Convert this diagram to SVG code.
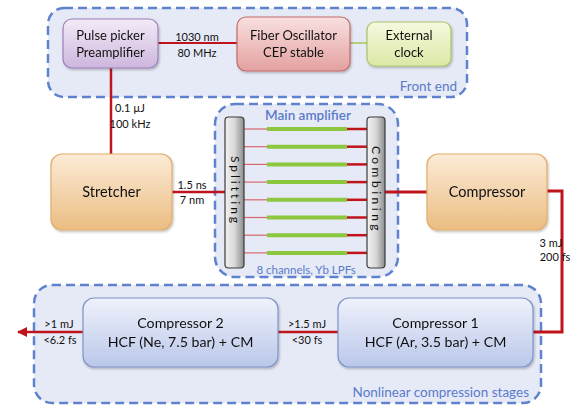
<svg xmlns="http://www.w3.org/2000/svg" width="579" height="412" viewBox="0 0 579 412">
<defs>
<linearGradient id="gPurple" x1="0" y1="0" x2="0" y2="1"><stop offset="0" stop-color="#f3ebf7"/><stop offset="1" stop-color="#cdb6dd"/></linearGradient>
<linearGradient id="gRed" x1="0" y1="0" x2="0" y2="1"><stop offset="0" stop-color="#f8e0df"/><stop offset="1" stop-color="#e3a1a0"/></linearGradient>
<linearGradient id="gGreen" x1="0" y1="0" x2="0" y2="1"><stop offset="0" stop-color="#f6f9df"/><stop offset="1" stop-color="#dbe8a6"/></linearGradient>
<linearGradient id="gOrange" x1="0" y1="0" x2="0" y2="1"><stop offset="0" stop-color="#fcebd7"/><stop offset="1" stop-color="#ebbd82"/></linearGradient>
<linearGradient id="gBlue" x1="0" y1="0" x2="0" y2="1"><stop offset="0" stop-color="#eff2fb"/><stop offset="1" stop-color="#bac7ea"/></linearGradient>
<linearGradient id="gBar" x1="0" y1="0" x2="1" y2="0"><stop offset="0" stop-color="#f2f2f2"/><stop offset="0.5" stop-color="#d8d8d8"/><stop offset="1" stop-color="#8c8c8c"/></linearGradient>
<filter id="sh" x="-10%" y="-10%" width="125%" height="130%"><feDropShadow dx="1" dy="1.5" stdDeviation="1.2" flood-color="#000" flood-opacity="0.25"/></filter>
<marker id="arr" viewBox="0 0 10 10" refX="9" refY="5" markerWidth="4" markerHeight="4" orient="auto-start-reverse"><path d="M0,0 L10,5 L0,10 z" fill="#c0141c"/></marker>
</defs>
<style>
.grp{fill:#e6eaf6;stroke:#5f82cf;stroke-width:2.5;stroke-dasharray:9 5}
.node{filter:url(#sh)}
.t{font-family:Lato,"Open Sans","Liberation Sans",sans-serif;fill:#111;text-anchor:middle}
.big{font-size:14.5px}
.hcf{font-size:14.2px}
.mid{font-size:13px}
.sm{font-size:11px}
.gl{font-family:Lato,"Open Sans","Liberation Sans",sans-serif;fill:#5a7acb;font-size:13.5px}
.red{stroke:#c0141c;fill:none}
.ch{stroke:#8dc63f;stroke-width:4}
.thin{stroke:#d46a70;stroke-width:1.2}
.rr{stroke:#c0141c;stroke-width:2.5}
.bar{fill:url(#gBar);stroke:#3a3a3a;stroke-width:1.2}
</style>

<g id="group-frontend">
<rect class="grp" x="48" y="8" width="419" height="89" rx="16"/>
<text class="gl" x="457" y="90.5" text-anchor="end">Front end</text>
</g>
<g id="group-mainamp">
<rect class="grp" x="215" y="104" width="183" height="173" rx="20"/>
<text class="gl" x="308" y="120" text-anchor="middle" font-weight="600">Main amplifier</text>
<text class="gl" x="306" y="274" text-anchor="middle" style="font-size:11.5px">8 channels, Yb LPFs</text>
</g>
<g id="group-nonlinear">
<rect class="grp" x="34" y="285" width="507" height="118" rx="18"/>
<text class="gl" x="529" y="397" text-anchor="end">Nonlinear compression stages</text>
</g>

<g id="connectors">
<line class="red" stroke-width="2" x1="158" y1="43" x2="237" y2="43"/>
<line stroke="#b5d07a" stroke-width="2" x1="350" y1="43" x2="367" y2="43"/>
<line class="red" stroke-width="2.5" x1="111" y1="68" x2="111" y2="154"/>
<line class="red" stroke-width="2.5" x1="172" y1="192" x2="225" y2="192"/>
<line class="red" stroke-width="3" x1="385" y1="192" x2="427" y2="192"/>
<polyline class="red" stroke-width="3" points="547,191 562,191 562,332 533,332"/>
<line class="red" stroke-width="2.5" x1="278" y1="332" x2="338" y2="332"/>
<line class="red" stroke-width="2.5" x1="83" y1="332" x2="18" y2="332" marker-end="url(#arr)"/>
<g id="channels">
<g class="thin">
<line x1="244" y1="129" x2="267" y2="129"/><line x1="244" y1="146.7" x2="267" y2="146.7"/><line x1="244" y1="164.4" x2="267" y2="164.4"/><line x1="244" y1="182.1" x2="267" y2="182.1"/><line x1="244" y1="199.8" x2="267" y2="199.8"/><line x1="244" y1="217.5" x2="267" y2="217.5"/><line x1="244" y1="235.2" x2="267" y2="235.2"/><line x1="244" y1="252.9" x2="267" y2="252.9"/>
</g>
<g class="ch">
<line x1="267" y1="129" x2="347" y2="129"/><line x1="267" y1="146.7" x2="347" y2="146.7"/><line x1="267" y1="164.4" x2="347" y2="164.4"/><line x1="267" y1="182.1" x2="347" y2="182.1"/><line x1="267" y1="199.8" x2="347" y2="199.8"/><line x1="267" y1="217.5" x2="347" y2="217.5"/><line x1="267" y1="235.2" x2="347" y2="235.2"/><line x1="267" y1="252.9" x2="347" y2="252.9"/>
</g>
<g class="rr">
<line x1="347" y1="129" x2="367" y2="129"/><line x1="347" y1="146.7" x2="367" y2="146.7"/><line x1="347" y1="164.4" x2="367" y2="164.4"/><line x1="347" y1="182.1" x2="367" y2="182.1"/><line x1="347" y1="199.8" x2="367" y2="199.8"/><line x1="347" y1="217.5" x2="367" y2="217.5"/><line x1="347" y1="235.2" x2="367" y2="235.2"/><line x1="347" y1="252.9" x2="367" y2="252.9"/>
</g>
</g>
<text class="t sm" x="197" y="41">1030 nm</text>
<text class="t sm" x="197" y="57">80 MHz</text>
<text class="t sm" x="130" y="112">0.1 µJ</text>
<text class="t sm" x="130" y="128">100 kHz</text>
<text class="t sm" x="192" y="189">1.5 ns</text>
<text class="t sm" x="192" y="204">7 nm</text>
<text class="t sm" x="551" y="247" text-anchor="end">3 mJ</text>
<text class="t sm" x="555" y="261" text-anchor="end">200 fs</text>
<text class="t sm" x="307" y="328">&gt;1.5 mJ</text>
<text class="t sm" x="307" y="344">&lt;30 fs</text>
<text class="t sm" x="59" y="328">&gt;1 mJ</text>
<text class="t sm" x="60" y="344">&lt;6.2 fs</text>
</g>

<g id="node-pulsepicker" class="node">
<rect x="63" y="19" width="95" height="49" rx="9" fill="url(#gPurple)" stroke="#9c80b8" stroke-width="1.2"/>
<text class="t mid" x="110.5" y="40">Pulse picker</text>
<text class="t mid" x="110.5" y="57">Preamplifier</text>
</g>
<g id="node-oscillator" class="node">
<rect x="237" y="17" width="113" height="54" rx="9" fill="url(#gRed)" stroke="#c46868" stroke-width="1.2"/>
<text class="t mid" x="293.5" y="40">Fiber Oscillator</text>
<text class="t mid" x="293.5" y="57">CEP stable</text>
</g>
<g id="node-clock" class="node">
<rect x="367" y="22" width="84" height="44" rx="8" fill="url(#gGreen)" stroke="#adc266" stroke-width="1.2"/>
<text class="t mid" x="409" y="40">External</text>
<text class="t mid" x="409" y="57">clock</text>
</g>
<g id="node-stretcher" class="node">
<rect x="51" y="154" width="121" height="76" rx="11" fill="url(#gOrange)" stroke="#e3ad68" stroke-width="1.2"/>
<text class="t big" x="111.5" y="197">Stretcher</text>
</g>
<g id="node-splitting">
<rect class="bar" x="225" y="117" width="19" height="151" rx="3.5"/>
<text class="t" x="0" y="0" font-size="12" letter-spacing="3" transform="translate(230.8,191) rotate(90)">Splitting</text>
</g>
<g id="node-combining">
<rect class="bar" x="367" y="117" width="18" height="151" rx="3.5"/>
<text class="t" x="0" y="0" font-size="12" letter-spacing="3.5" transform="translate(372.3,190) rotate(90)">Combining</text>
</g>
<g id="node-compressor" class="node">
<rect x="427" y="154" width="120" height="76" rx="11" fill="url(#gOrange)" stroke="#e3ad68" stroke-width="1.2"/>
<text class="t big" x="487" y="197">Compressor</text>
</g>
<g id="node-compressor1" class="node">
<rect x="338" y="298" width="195" height="69" rx="11" fill="url(#gBlue)" stroke="#7f94c8" stroke-width="1.2"/>
<text class="t hcf" x="435.5" y="328">Compressor 1</text>
<text class="t hcf" x="435.5" y="347">HCF (Ar, 3.5 bar) + CM</text>
</g>
<g id="node-compressor2" class="node">
<rect x="83" y="298" width="195" height="69" rx="11" fill="url(#gBlue)" stroke="#7f94c8" stroke-width="1.2"/>
<text class="t hcf" x="180.5" y="328">Compressor 2</text>
<text class="t hcf" x="180.5" y="347">HCF (Ne, 7.5 bar) + CM</text>
</g>
</svg>
